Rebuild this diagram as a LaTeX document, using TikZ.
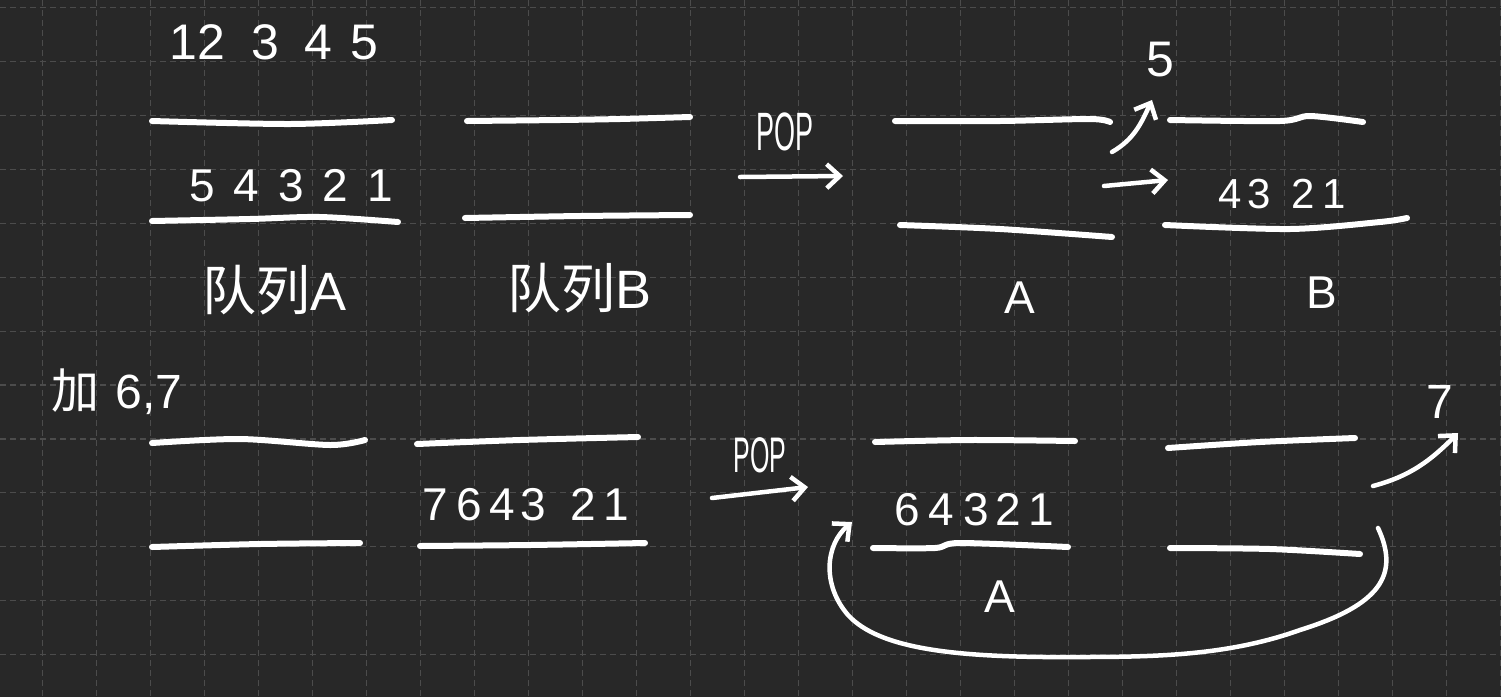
\documentclass[tikz,border=0pt]{standalone}
\usepackage{fontspec}
\setmainfont{Liberation Sans}
\newfontfamily\cjk{Noto Sans CJK SC}
\usetikzlibrary{arrows.meta}
\definecolor{bg}{HTML}{282828}
\definecolor{gridc}{HTML}{4C4C4C}
\begin{document}
\begin{tikzpicture}[x=1pt,y=-1pt,
  hand/.style={white,line width=6pt,line cap=round,line join=round},
  arr/.style={white,line width=4.5pt,line cap=round,line join=round,-{Straight Barb[length=13pt,width=24pt]}},
  txt/.style={text=white,inner sep=0pt,font=\fontsize{46}{50}\selectfont},
  gridline/.style={gridc,line width=1.2pt,dash pattern=on 6pt off 4pt}]
\useasboundingbox (0,0) rectangle (1501,697);
\fill[bg] (0,0) rectangle (1501,697);
\foreach \i in {-1,...,27} {\draw[gridline] ({42.7+54*\i},0) -- ({42.7+54*\i},697);}
\foreach \j in {0,...,12} {\draw[gridline] (0,{7.7+53.9*\j}) -- (1501,{7.7+53.9*\j});}

% ---- top row ----
\node[txt,font=\fontsize{50}{55}\selectfont] (seq) at (274,42) {12\hspace{26pt}3\hspace{26pt}4\hspace{18pt}5};
% queue A
\draw[hand] plot[smooth] coordinates {(152,121) (290,124) (392,120)};
\draw[hand] plot[smooth] coordinates {(152,221) (250,219) (320,217) (398,222)};
\node[txt] (qa) at (291,186) {5\hspace{19pt}4\hspace{19pt}3\hspace{19pt}2\hspace{19pt}1};
\node[txt,font=\fontsize{54}{60}\selectfont] (la) at (275,290) {{\cjk 队列}A};
% queue B
\draw[hand] plot[smooth] coordinates {(467,121) (560,120) (620,119) (690,117)};
\draw[hand] plot[smooth] coordinates {(465,218) (580,216) (690,215)};
\node[txt,font=\fontsize{54}{60}\selectfont] (lb) at (580,288) {{\cjk 队列}B};
% pop arrow
\node[txt,font=\fontsize{54}{60}\selectfont] (pop1) at (785,132) {\scalebox{0.5}[1]{POP}};
\coordinate (p1s) at (740,177);
\coordinate (p1e) at (843,176);
\draw[arr] (p1s) -- (p1e);
% A after
\draw[hand] plot[smooth] coordinates {(895,121) (1000,121) (1090,119) (1110,122)};
\draw[hand] plot[smooth] coordinates {(900,225) (1000,229) (1112,237)};
\node[txt] (lA1) at (1020,298) {A};
% arrows out of A
\coordinate (a5s) at (1112,152);
\coordinate (a5e) at (1152,100);
\draw[arr] (a5s) to[out=30,in=-115] (a5e);
\node[txt,font=\fontsize{50}{55}\selectfont] (five) at (1160,60) {5};
\coordinate (abs) at (1104,186);
\coordinate (abe) at (1168,180);
\draw[arr] (abs) -- (abe);
% B after
\draw[hand] plot[smooth] coordinates {(1170,120) (1280,121) (1310,116) (1363,122)};
\draw[hand] plot[smooth] coordinates {(1165,225) (1290,229) (1380,222) (1407,218)};
\node[txt,font=\fontsize{42}{46}\selectfont] (qb) at (1282,194) {4\hspace{6pt}3\hspace{20pt}2\hspace{8pt}1};
\node[txt] (lB1) at (1322,293) {B};

% ---- bottom row ----
\node[txt,font=\fontsize{48}{54}\selectfont] (add) at (117,392) {{\cjk 加}\hspace{16pt}6,7};
% empty left queue
\draw[hand] plot[smooth] coordinates {(152,443) (240,439) (330,445) (365,440)};
\draw[hand] plot[smooth] coordinates {(152,547) (260,544) (360,543)};
% middle queue
\draw[hand] plot[smooth] coordinates {(417,444) (520,440) (638,437)};
\draw[hand] plot[smooth] coordinates {(420,546) (530,545) (645,543)};
\node[txt] (qm) at (526,505) {7\hspace{8pt}6\hspace{8pt}4\hspace{5pt}3\hspace{24pt}2\hspace{8pt}1};
% pop arrow
\node[txt,font=\fontsize{50}{55}\selectfont] (pop2) at (760,455) {\scalebox{0.5}[1]{POP}};
\coordinate (p2s) at (712,498);
\coordinate (p2e) at (808,487);
\draw[arr] (p2s) -- (p2e);
% A
\draw[hand] plot[smooth] coordinates {(875,442) (970,440) (1075,441)};
\draw[hand] plot[smooth] coordinates {(873,548) (935,548) (960,543) (1068,547)};
\node[txt] (qA2) at (974,510) {6\hspace{9pt}4\hspace{9pt}3\hspace{7pt}2\hspace{7pt}1};
\node[txt] (lA2) at (1000,597) {A};
% right empty queue
\draw[hand] plot[smooth] coordinates {(1168,448) (1260,442) (1355,438)};
\draw[hand] plot[smooth] coordinates {(1170,548) (1270,549) (1360,554)};
% 7 out
\coordinate (a7s) at (1373,486);
\coordinate (a7e) at (1458,433);
\draw[arr] (a7s) to[out=15,in=-135] (a7e);
\node[txt,font=\fontsize{48}{54}\selectfont] (seven) at (1440,402) {7};
% loop back
\coordinate (ls) at (1378,528);
\coordinate (le) at (852,522);
\draw[arr] (ls) .. controls (1400,575) and (1380,605) .. (1300,630)
  .. controls (1230,655) and (1160,657) .. (1080,657)
  .. controls (960,658) and (880,650) .. (848,615)
  .. controls (822,585) and (825,545) .. (le);
\end{tikzpicture}
\end{document}
